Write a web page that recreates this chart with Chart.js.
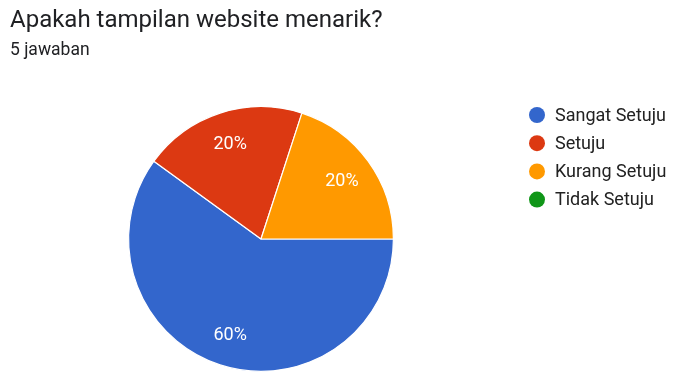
<!DOCTYPE html>
<html lang="id">
<head>
<meta charset="UTF-8">
<title>Apakah tampilan website menarik?</title>
<script src="https://cdn.jsdelivr.net/npm/chart.js"></script>
<style>
  html, body { margin: 0; padding: 0; background: #fff; overflow: hidden; }
  #wrap { position: relative; width: 673px; height: 372px; }
  #pie { display: block; }
</style>
</head>
<body>
<div id="wrap"><canvas id="pie" width="673" height="372"></canvas></div>
<script>
// data (5 responses)
const labels = ['Sangat Setuju', 'Setuju', 'Kurang Setuju', 'Tidak Setuju'];
const counts = [3, 1, 1, 0];
const colors = ['#3366cc', '#dc3912', '#ff9900', '#109618'];

const questionTitle = 'Apakah tampilan website menarik?';
const responseNote = '5 jawaban';

const FONT = 'Roboto, Arial, sans-serif';

// titles, percent labels and the legend, drawn on top of the pie
const formsDecor = {
  id: 'formsDecor',
  afterDraw(chart) {
    const ctx = chart.ctx;
    ctx.save();

    ctx.textAlign = 'left';
    ctx.textBaseline = 'alphabetic';
    ctx.fillStyle = '#202124';
    ctx.font = '24px ' + FONT;
    ctx.fillText(questionTitle, 10, 27);
    ctx.font = '17.5px ' + FONT;
    ctx.fillStyle = '#202124';
    ctx.fillText(responseNote, 10, 55);

    // percent labels inside slices
    const meta = chart.getDatasetMeta(0);
    const total = counts.reduce((a, b) => a + b, 0);
    ctx.font = '18px ' + FONT;
    ctx.fillStyle = '#ffffff';
    ctx.textAlign = 'center';
    ctx.textBaseline = 'middle';
    meta.data.forEach((arc, i) => {
      if (!counts[i]) return;
      const p = arc.getProps(['x', 'y', 'startAngle', 'endAngle', 'outerRadius'], true);
      const mid = (p.startAngle + p.endAngle) / 2;
      const r = p.outerRadius * 0.755;
      const pct = Math.round(counts[i] / total * 100) + '%';
      ctx.fillText(pct, p.x + Math.cos(mid) * r, p.y + Math.sin(mid) * r + 1);
    });

    // legend
    ctx.textAlign = 'left';
    ctx.font = '18px ' + FONT;
    labels.forEach((lab, i) => {
      const y = 115 + i * 28.2;
      ctx.beginPath();
      ctx.fillStyle = colors[i];
      ctx.arc(537, y, 8, 0, Math.PI * 2);
      ctx.fill();
      ctx.fillStyle = '#222222';
      ctx.fillText(lab, 555, y + 1);
    });

    ctx.restore();
  }
};

new Chart(document.getElementById('pie'), {
  type: 'pie',
  data: {
    labels: labels,
    datasets: [{
      data: counts,
      backgroundColor: colors,
      borderColor: '#ffffff',
      borderWidth: 1.2,
      hoverOffset: 0
    }]
  },
  options: {
    responsive: false,
    animation: false,
    devicePixelRatio: 1,
    rotation: 90,
    layout: { padding: { left: 128, right: 279, top: 106, bottom: 0 } },
    plugins: {
      legend: { display: false },
      tooltip: { enabled: false },
      title: { display: false }
    }
  },
  plugins: [formsDecor]
});
</script>
</body>
</html>
